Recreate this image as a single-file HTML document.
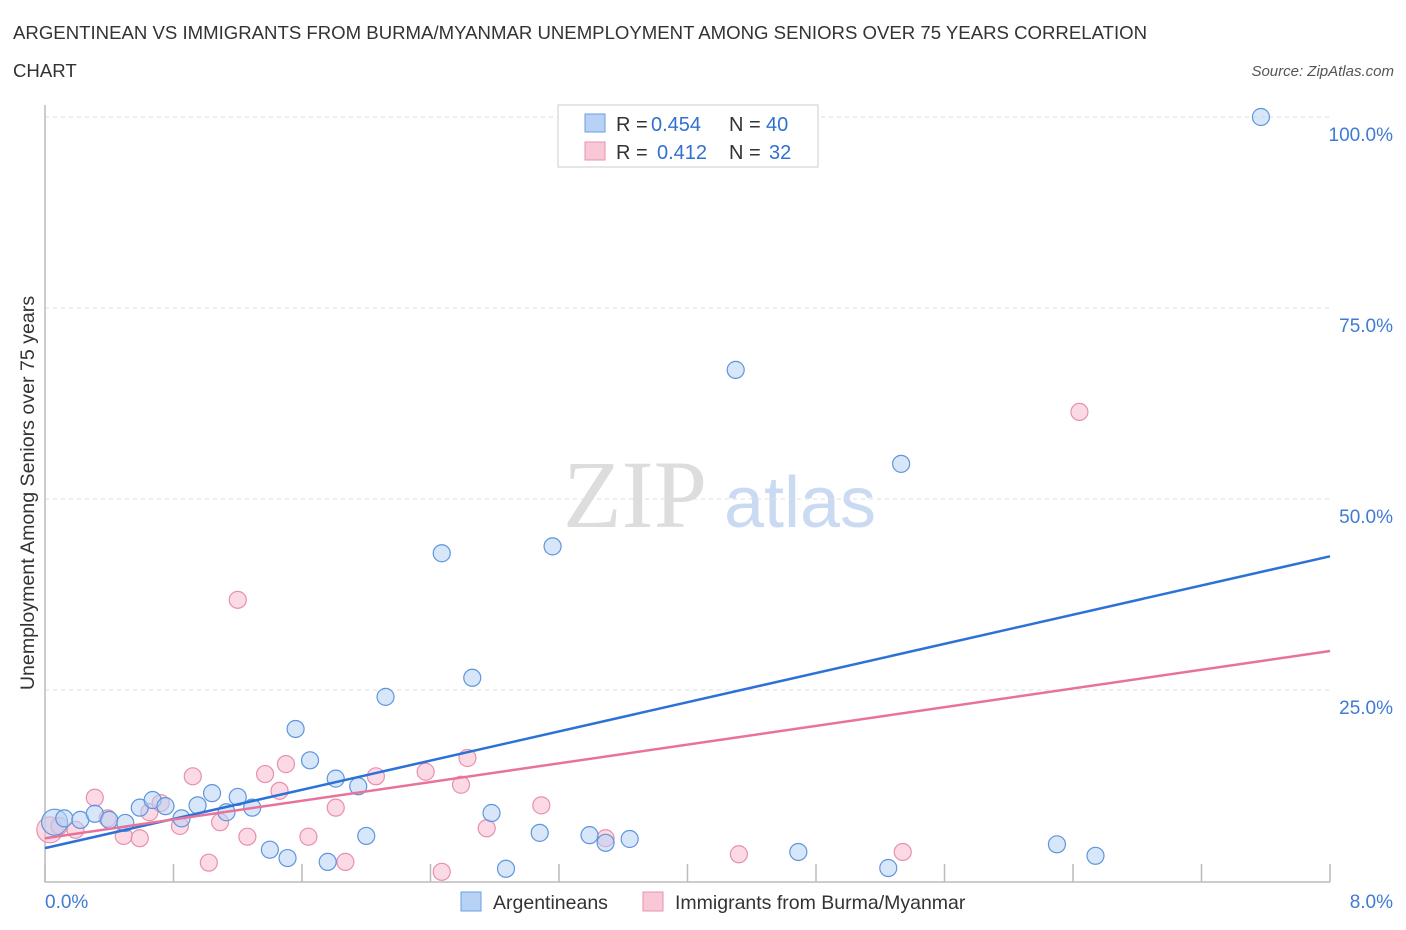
<!DOCTYPE html>
<html><head><meta charset="utf-8"><style>
body{margin:0;background:#fff;font-family:"Liberation Sans",sans-serif;}
svg{display:block}
</style></head><body>
<svg id="chart" width="1406" height="930" xmlns="http://www.w3.org/2000/svg">
<text x="13" y="39" font-size="18.6" fill="#333">ARGENTINEAN VS IMMIGRANTS FROM BURMA/MYANMAR UNEMPLOYMENT AMONG SENIORS OVER 75 YEARS CORRELATION</text>
<text x="13" y="77" font-size="18.6" fill="#333">CHART</text>
<text x="1394" y="76" font-size="15" fill="#555" font-style="italic" text-anchor="end">Source: ZipAtlas.com</text>
<text transform="translate(34,493) rotate(-90)" font-size="19.6" fill="#333" text-anchor="middle">Unemployment Among Seniors over 75 years</text>
<g>
<text x="635" y="527" font-size="96" fill="#ddd" font-family="Liberation Serif" text-anchor="middle">ZIP</text>
<text x="800" y="527" font-size="72" fill="#c9daf2" text-anchor="middle">atlas</text>
</g>
<g id="grid"></g><g id="axes"></g><g id="lines"></g><g id="pts"></g>
<g font-size="20">
<rect x="558" y="105" width="260" height="62" fill="#fff" stroke="#ccc"/>
<rect x="585" y="114" width="20" height="18" fill="#b8d2f5" stroke="#6a9fe0"/>
<rect x="585" y="142" width="20" height="18" fill="#f9c8d7" stroke="#e890ae"/>
<text x="616" y="131" fill="#333">R =</text><text x="651" y="131" fill="#3070d0">0.454</text>
<text x="729" y="131" fill="#333">N =</text><text x="766" y="131" fill="#3070d0">40</text>
<text x="616" y="159" fill="#333">R =</text><text x="657" y="159" fill="#3070d0">0.412</text>
<text x="729" y="159" fill="#333">N =</text><text x="769" y="159" fill="#3070d0">32</text>
</g>
<g>
<rect x="461" y="892" width="20" height="19" fill="#b8d2f5" stroke="#6a9fe0"/>
<text x="493" y="909" font-size="19.5" fill="#333">Argentineans</text>
<rect x="643" y="892" width="20" height="19" fill="#f9c8d7" stroke="#e890ae"/>
<text x="675" y="909" font-size="19.5" fill="#333">Immigrants from Burma/Myanmar</text>
</g>
</svg>
<script>
const blueX=[0.06,0.12,0.22,0.31,0.40,0.50,0.59,0.67,0.75,0.85,0.95,1.04,1.13,1.20,1.29,1.40,1.51,1.56,1.65,1.76,1.81,1.95,2.00,2.12,2.47,2.66,2.78,2.87,3.08,3.16,3.39,3.49,3.64,4.30,4.69,5.25,5.33,6.30,6.54,7.57];
const blueY=[7.7,8.2,8.0,8.8,8.0,7.6,9.6,10.6,9.8,8.2,9.9,11.5,9.0,11.0,9.6,4.1,3.0,19.9,15.8,2.5,13.4,12.4,5.9,24.1,42.9,26.6,8.9,1.6,6.3,43.8,6.0,5.0,5.5,66.9,3.8,1.7,54.6,4.8,3.3,100];
const pinkX=[0.03,0.09,0.19,0.31,0.39,0.49,0.59,0.65,0.72,0.84,0.92,1.02,1.09,1.20,1.26,1.37,1.46,1.50,1.64,1.81,1.87,2.06,2.37,2.47,2.59,2.63,2.75,3.09,3.49,4.32,5.34,6.44];
const pinkY=[6.7,7.2,6.7,10.9,8.2,5.9,5.6,9.0,10.2,7.2,13.7,2.4,7.7,36.8,5.8,14.0,11.8,15.3,5.8,9.6,2.5,13.7,14.3,1.2,12.6,16.1,6.9,9.9,5.6,3.5,3.8,61.4];
const blueTrend=[4.3,42.5];
const pinkTrend=[5.6,30.1];
const yTicks=[25,50,75,100];
const yTickLabels=["25.0%","50.0%","75.0%","100.0%"];
const xTicks=[0,0.8,1.6,2.4,3.2,4.0,4.8,5.6,6.4,7.2,8.0];
const NS="http://www.w3.org/2000/svg";
const X=v=>45+v/8*1285, Y=v=>881-v*7.64;
function mk(t,a,p){const e=document.createElementNS(NS,t);for(const k in a)e.setAttribute(k,a[k]);document.getElementById(p).appendChild(e);return e;}
yTicks.forEach((t,i)=>{
 const g=mk('line',{x1:45,x2:1330,y1:Y(t),y2:Y(t),stroke:'#ddd','stroke-dasharray':'4,4'},'grid');
 
 
 const l=mk('text',{x:1393,y:Y(t)+24,'font-size':19,fill:'#3f7bd4','text-anchor':'end'},'grid');
 l.textContent=yTickLabels[i];
 
 
});
const ax=mk('path',{d:'M45,105 V882 H1330',fill:'none',stroke:'#bbb','stroke-width':1.5},'axes');


xTicks.forEach(t=>{const k=mk('line',{x1:X(t),x2:X(t),y1:864,y2:882,stroke:'#bbb','stroke-width':1.5},'axes');
 
 });
const x0=mk('text',{x:45,y:908,'font-size':19,fill:'#3f7bd4'},'axes');x0.textContent='0.0%';


const x1=mk('text',{x:1393,y:908,'font-size':19,fill:'#3f7bd4','text-anchor':'end'},'axes');x1.textContent='8.0%';


function pts(xs,ys,fill,stroke,name){xs.forEach((x,i)=>{const c=mk('circle',{cx:X(x),cy:Y(ys[i]),r:i==0?13:8.5,fill:fill,'fill-opacity':0.55,stroke:stroke,'stroke-width':1.2},'pts');
 
 });}
pts(pinkX,pinkY,'#f7bcd0','#e890ae','pink-point');
pts(blueX,blueY,'#b8d2f5','#5e95dc','blue-point');
const bl=mk('line',{x1:X(0),y1:Y(blueTrend[0]),x2:X(8),y2:Y(blueTrend[1]),stroke:'#2b72d6','stroke-width':2.5},'lines');


const pl=mk('line',{x1:X(0),y1:Y(pinkTrend[0]),x2:X(8),y2:Y(pinkTrend[1]),stroke:'#e8739a','stroke-width':2.5},'lines');


document.getElementById('chart').appendChild(document.getElementById('lines'));
</script>
</body></html>
